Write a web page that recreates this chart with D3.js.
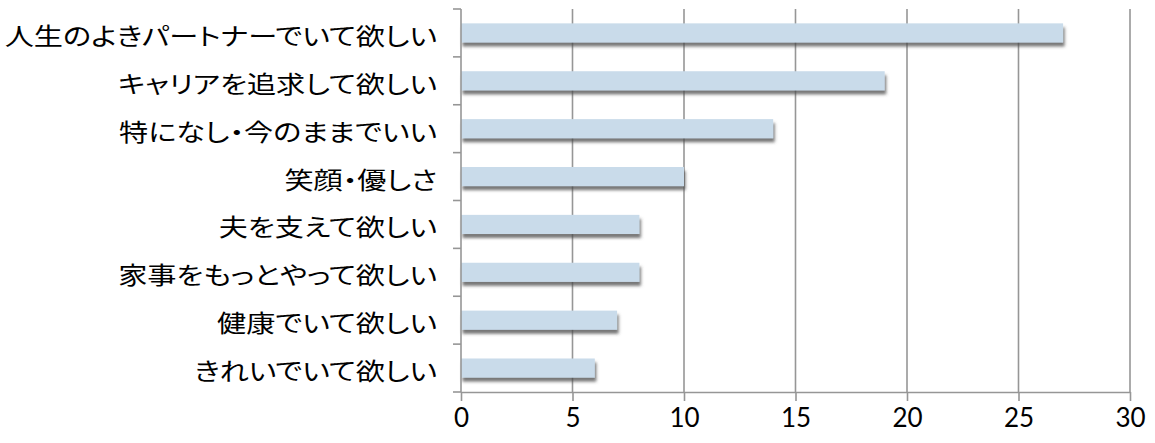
<!DOCTYPE html>
<html>
<head>
<meta charset="utf-8">
<script src="https://cdn.jsdelivr.net/npm/d3@7"></script>
<style>
  body { margin: 0; background: #fff; }
  svg { display: block; }
  .cat { font-feature-settings: 'palt' 1; }
</style>
</head>
<body>
<script>
const categories = [
  '人生のよきパートナーでいて欲しい',
  'キャリアを追求して欲しい',
  '特になし・今のままでいい',
  '笑顔・優しさ',
  '夫を支えて欲しい',
  '家事をもっとやって欲しい',
  '健康でいて欲しい',
  'きれいでいて欲しい'
]
const values = [27, 19, 14, 10, 8, 8, 7, 6]
const xTicks = [0, 5, 10, 15, 20, 25, 30]

const width = 1155
const height = 443
const margin = { top: 9, right: 25, bottom: 51, left: 461 }

const svg = d3.select('body').append('svg')
  .attr('width', width)
  .attr('height', height)

// shadow under bars
const defs = svg.append('defs')
defs.append('filter')
  .attr('id', 'shadow')
  .attr('x', '-5%').attr('y', '-50%')
  .attr('width', '110%').attr('height', '220%')
  .append('feDropShadow')
  .attr('dx', 1.5).attr('dy', 4)
  .attr('stdDeviation', 1.8)
  .attr('flood-color', '#4a4a4a')
  .attr('flood-opacity', 0.75)

const x = d3.scaleLinear()
  .domain([0, 30])
  .range([margin.left, width - margin.right])

const y = d3.scaleBand()
  .domain(categories)
  .range([margin.top, height - margin.bottom])
  .paddingInner(0.6)
  .paddingOuter(0.3)

const yb = d3.scaleBand()
  .domain(categories)
  .range([margin.top, height - margin.bottom])

// gridlines
svg.append('g')
  .selectAll('line')
  .data(xTicks.slice(1))
  .enter()
  .append('line')
  .attr('x1', (d) => x(d)).attr('x2', (d) => x(d))
  .attr('y1', margin.top).attr('y2', height - margin.bottom)
  .attr('stroke', '#969696')
  .attr('stroke-width', 1.6)

// bars
svg.append('g')
  .selectAll('rect')
  .data(values)
  .enter()
  .append('rect')
  .attr('x', x(0))
  .attr('y', (d, i) => y(categories[i]))
  .attr('width', (d) => x(d) - x(0))
  .attr('height', y.bandwidth())
  .attr('fill', '#c9dbea')
  .attr('filter', 'url(#shadow)')

// x axis
const xAxis = d3.axisBottom(x)
  .tickValues(xTicks)
  .tickSize(9)
  .tickPadding(8)
  .tickSizeOuter(0)

const gx = svg.append('g')
  .attr('transform', `translate(0,${height - margin.bottom})`)
  .call(xAxis)
gx.select('.domain').attr('stroke', '#969696').attr('stroke-width', 1.6)
gx.selectAll('.tick line').attr('stroke', '#969696').attr('stroke-width', 1.6)
gx.selectAll('.tick text')
  .attr('fill', '#000')
  .attr('font-family', 'Lato, "Open Sans", sans-serif')
  .attr('font-size', 26)
  .attr('dy', '0.68em')

// y axis
const gy = svg.append('g')
  .attr('transform', `translate(${margin.left},0)`)
gy.append('line')
  .attr('y1', margin.top).attr('y2', height - margin.bottom)
  .attr('stroke', '#969696')
  .attr('stroke-width', 1.6)
const yTickPos = categories.map((c) => yb(c)).concat([height - margin.bottom])
gy.selectAll('.ytick')
  .data(yTickPos)
  .enter()
  .append('line')
  .attr('class', 'ytick')
  .attr('x1', -8).attr('x2', 0)
  .attr('y1', (d) => d).attr('y2', (d) => d)
  .attr('stroke', '#969696')
  .attr('stroke-width', 1.6)

// category labels
svg.append('g')
  .selectAll('text')
  .data(categories)
  .enter()
  .append('text')
  .attr('class', 'cat')
  .attr('transform', (d) => `translate(${margin.left - 24},${yb(d) + yb.bandwidth() / 2 + 12}) scale(1.215,1)`)
  .attr('text-anchor', 'end')
  .attr('font-family', '"Noto Sans CJK JP", sans-serif')
  .attr('font-size', 24)
  .attr('fill', '#000')
  .text((d) => d)
</script>
</body>
</html>
